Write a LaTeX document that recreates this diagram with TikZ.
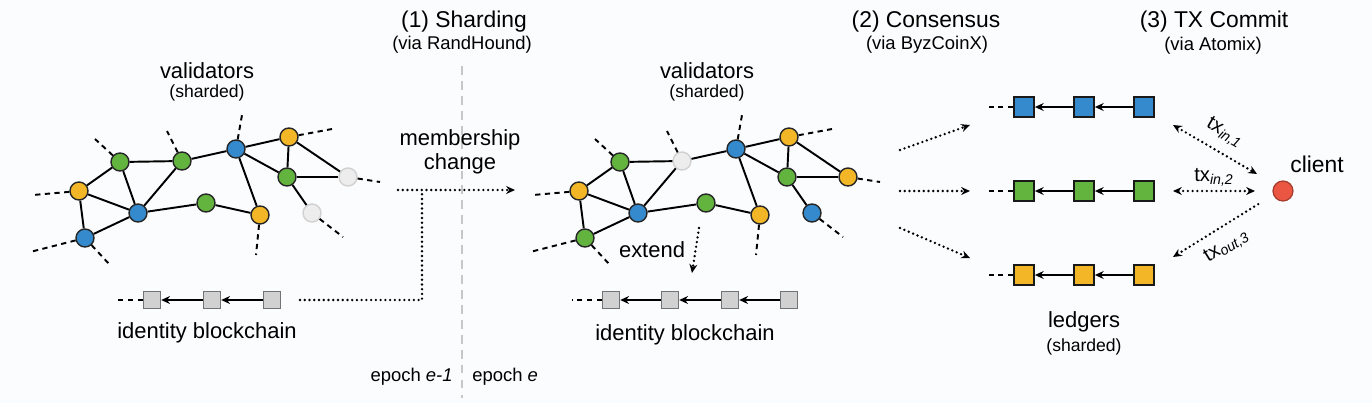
\documentclass[tikz,border=0pt]{standalone}
\usepackage{fontspec}
\setmainfont{Liberation Sans}
\usetikzlibrary{arrows.meta}
\definecolor{bgc}{RGB}{251,252,253}
\definecolor{valblu}{RGB}{52,138,205}
\definecolor{valgrn}{RGB}{98,180,62}
\definecolor{valyel}{RGB}{242,182,38}
\definecolor{clientred}{RGB}{234,86,66}
\tikzset{
  val/.style={circle,draw=black!85,line width=0.8pt,minimum size=0.36cm,inner sep=0pt},
  idle/.style={draw=black!18,fill=black!7},
  link/.style={line width=1.1pt},
  stub/.style={line width=1.1pt,dash pattern=on 3pt off 2.5pt},
  dotline/.style={line width=1.5pt,dash pattern=on 0pt off 2.7pt,line cap=round},
  blk/.style={rectangle,draw=black!55,fill=black!18,line width=0.8pt,minimum size=0.34cm,inner sep=0pt},
  ledg/.style={rectangle,draw=black!90,line width=1pt,minimum size=0.4cm,inner sep=0pt},
  lbl/.style={font=\fontsize{12.5}{14}\selectfont,inner sep=0pt},
  head/.style={font=\fontsize{13}{15}\selectfont,inner sep=0pt},
  sub/.style={font=\fontsize{10.5}{12}\selectfont,inner sep=0pt},
  txt/.style={font=\fontsize{10.5}{12}\selectfont,inner sep=2pt},
  txlbl/.style={font=\fontsize{11.5}{13}\selectfont,inner sep=1pt}
}
% one shard network: #1 prefix, #2..#5 looks of the nodes that change
\newcommand{\shardnet}[5]{%
  \node[lbl] (#1title) at (207,71) {validators};
  \node[sub,font=\fontsize{10}{11}\selectfont] (#1note) at (207,93) {(sharded)};
  \node[val,fill=valyel] (#1a) at (79,191) {};
  \node[val,fill=valgrn] (#1b) at (120,162) {};
  \node[val,#2] (#1c) at (182,161) {};
  \node[val,fill=valblu] (#1d) at (236,149) {};
  \node[val,fill=valyel] (#1e) at (289,137) {};
  \node[val,fill=valgrn] (#1f) at (287,177) {};
  \node[val,#3] (#1g) at (348,177) {};
  \node[val,#4] (#1h) at (312,213) {};
  \node[val,fill=valblu] (#1i) at (138,213) {};
  \node[val,fill=valgrn] (#1j) at (206,203) {};
  \node[val,fill=valyel] (#1k) at (260,215) {};
  \node[val,#5] (#1l) at (85,238) {};
  \foreach \p/\q in {a/b,a/i,a/l,b/c,b/i,c/i,c/d,d/e,d/f,d/k,e/f,e/g,f/g,f/h,i/j,j/k,i/l}
    \draw[link] (#1\p) -- (#1\q);
  \foreach \p/\dx/\dy in {a/-46/4,b/-25/-23,c/-15/-30,d/6/-34,e/43/-8,g/32/5,h/31/24,k/-4/40,l/-55/14,l/25/27}
    \draw[stub] (#1\p) -- ++(\dx,\dy);
}
\begin{document}
\begin{tikzpicture}[x=0.02cm,y=-0.02cm,>={Stealth[length=5pt,width=4.5pt]}]
  \useasboundingbox (0,0) rectangle (1372,403);
  \fill[bgc] (0,0) rectangle (1372,403);
  % headings
  \node[head] (h1) at (464,22) {(1) Sharding};
  \node[sub] (h1s) at (462,45) {(via RandHound)};
  \node[head] (h2) at (926,22) {(2) Consensus};
  \node[sub] (h2s) at (927,45) {(via ByzCoinX)};
  \node[head] (h3) at (1214,22) {(3) TX Commit};
  \node[sub] (h3s) at (1213,46) {(via Atomix)};
  % epochs
  \draw[black!22,line width=0.7pt,dash pattern=on 5pt off 3.5pt] (462,66) -- (462,398);
  \node[txt,anchor=east,inner sep=0pt] (ep1) at (453,377) {epoch \textit{e-1}};
  \node[txt,anchor=west,inner sep=0pt] (ep2) at (472,377) {epoch \textit{e}};
  % validators before and after
  \shardnet{l}{fill=valgrn}{idle}{idle}{fill=valblu}
  \begin{scope}[shift={(500,0)}]
    \shardnet{m}{idle}{fill=valyel}{fill=valblu}{fill=valgrn}
  \end{scope}
  % identity blockchain, epoch e-1
  \node[blk] (lb1) at (152,300) {};
  \node[blk] (lb2) at (212,300) {};
  \node[blk] (lb3) at (272,300) {};
  \draw[stub] (lb1) -- ++(-35,0);
  \draw[link,->] (lb3) -- (lb2);
  \draw[link,->] (lb2) -- (lb1);
  \node[lbl] (lid) at (207,333) {identity blockchain};
  % membership change
  \coordinate (idout) at (300,300);
  \coordinate (mcs) at (398,190);
  \coordinate (mcj) at (422,190);
  \coordinate (mce) at (515,190);
  \draw[dotline,->] (mcs) -- (mce);
  \draw[dotline] (idout) -| (mcj);
  \node[lbl,align=center] (mc) at (460,152) {membership\\change};
  % identity blockchain, epoch e
  \foreach \i/\x in {1/611,2/670,3/730,4/789}
    \node[blk] (mb\i) at (\x,300) {};
  \draw[stub] (mb1) -- ++(-39,0);
  \foreach \i/\j in {2/1,3/2,4/3}
    \draw[link,->] (mb\i) -- (mb\j);
  \node[lbl] (mid) at (685,335) {identity blockchain};
  \coordinate (exs) at (699,228);
  \coordinate (exe) at (692,273);
  \draw[dotline,->] (exs) -- (exe);
  \node[lbl] (ext) at (652,250) {extend};
  % ledgers
  \foreach \r/\y/\c/\sy/\ey in {1/107/valblu/150/125,2/191/valgrn/191/191,3/275/valyel/228/258}{
    \node[ledg,fill=\c] (r\r a) at (1024,\y) {};
    \node[ledg,fill=\c] (r\r b) at (1084,\y) {};
    \node[ledg,fill=\c] (r\r c) at (1144,\y) {};
    \draw[stub] (r\r a) -- ++(-37,0);
    \draw[link,->] (r\r c) -- (r\r b);
    \draw[link,->] (r\r b) -- (r\r a);
    \coordinate (cs\r) at (900,\sy);
    \coordinate (ce\r) at (970,\ey);
    \draw[dotline,->] (cs\r) -- (ce\r);
  }
  \node[lbl] (led) at (1084,322) {ledgers};
  \node[sub,font=\fontsize{10}{11}\selectfont] (leds) at (1084,347) {(sharded)};
  % client
  \node[circle,draw=clientred!70!black,fill=clientred,line width=0.7pt,minimum size=0.4cm,inner sep=0pt] (client) at (1283,191) {};
  \node[lbl,font=\fontsize{13}{14}\selectfont] (clbl) at (1317,164) {client};
  \coordinate (t1a) at (1173,125); \coordinate (t1b) at (1257,174);
  \coordinate (t2a) at (1173,191); \coordinate (t2b) at (1255,191);
  \coordinate (t3a) at (1173,257); \coordinate (t3b) at (1260,203);
  \draw[dotline,<->] (t1a) -- node[txlbl,sloped,above=4pt] {tx\textsubscript{\itshape in,1}} (t1b);
  \draw[dotline,<->] (t2a) -- node[txlbl,above=1pt] {tx\textsubscript{\itshape in,2}} (t2b);
  \draw[dotline,<-] (t3a) -- node[txlbl,sloped,below=4pt] {tx\textsubscript{\itshape out,3}} (t3b);
\end{tikzpicture}
\end{document}
